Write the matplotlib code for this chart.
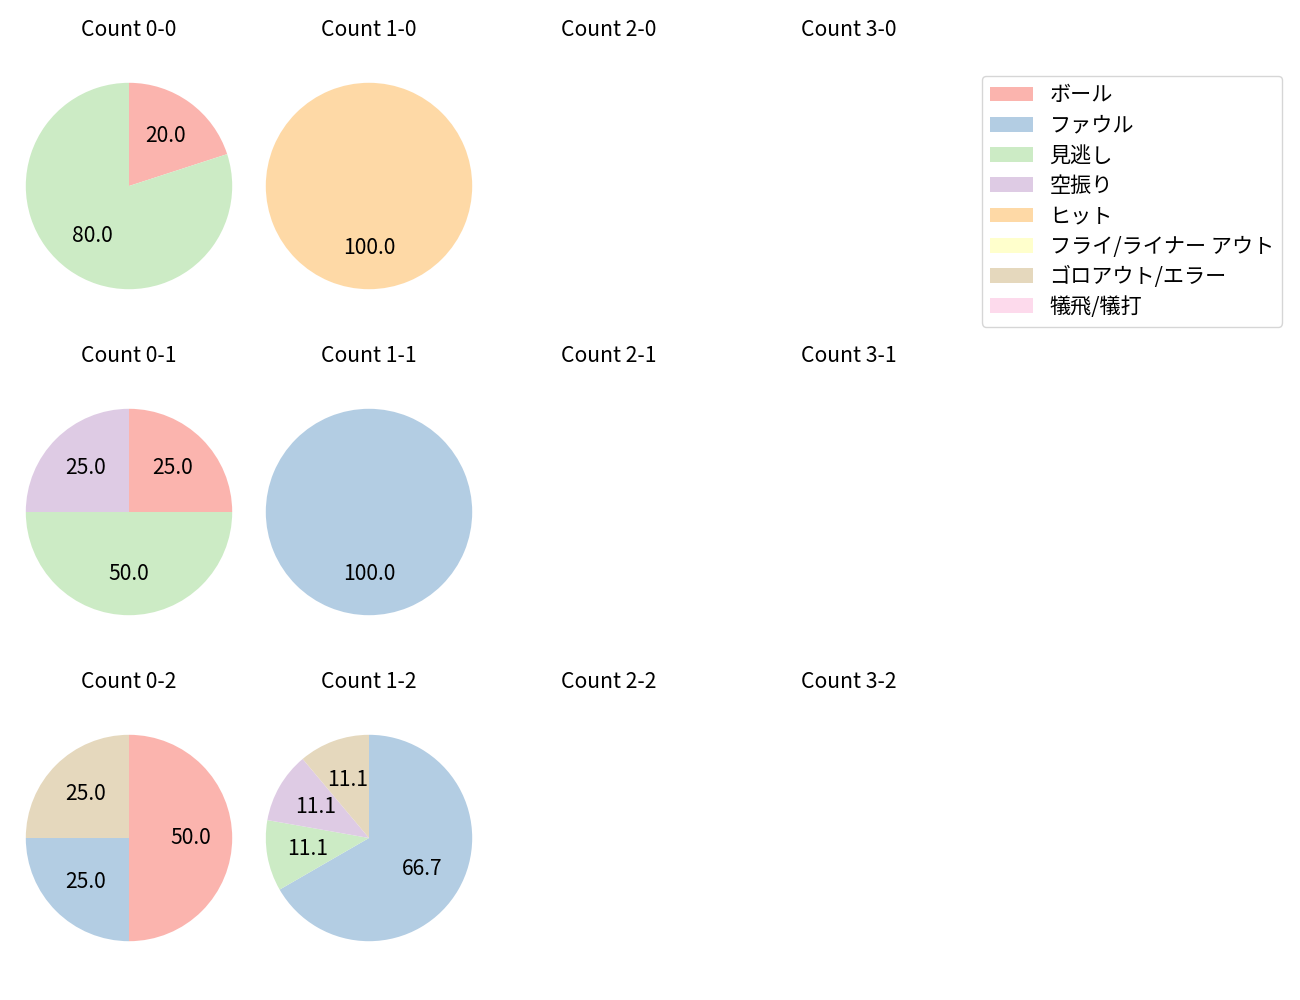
import matplotlib
matplotlib.use("Agg")
import matplotlib.pyplot as plt
from matplotlib.patches import Patch

plt.rcParams['font.family'] = ['Noto Sans CJK JP', 'DejaVu Sans']

categories = ['ボール', 'ファウル', '見逃し', '空振り', 'ヒット',
              'フライ/ライナー アウト', 'ゴロアウト/エラー', '犠飛/犠打']
colors = plt.get_cmap('Pastel1').colors[:len(categories)]

balls = [0, 1, 2, 3]
strikes = [0, 1, 2]

# pitch result counts per ball-strike count (same order as categories)
count_0_0 = [1, 0, 4, 0, 0, 0, 0, 0]
count_1_0 = [0, 0, 0, 0, 1, 0, 0, 0]
count_0_1 = [1, 0, 2, 1, 0, 0, 0, 0]
count_1_1 = [0, 1, 0, 0, 0, 0, 0, 0]
count_0_2 = [2, 1, 0, 0, 0, 0, 1, 0]
count_1_2 = [0, 6, 1, 1, 0, 0, 1, 0]

data = {
    (0, 0): count_0_0, (1, 0): count_1_0,
    (0, 1): count_0_1, (1, 1): count_1_1,
    (0, 2): count_0_2, (1, 2): count_1_2,
}

W, H = 1300, 1000
fig = plt.figure(figsize=(13, 10), dpi=100)
side = 258
fs = 15.2

for s in strikes:
    for b in balls:
        cx = 129 + 240 * b
        cy = 186 + 326 * s
        ax = fig.add_axes([(cx - side / 2) / W, 1 - (cy + side / 2) / H, side / W, side / H])
        ax.set_title('Count %d-%d' % (b, s), fontsize=fs, pad=15)
        vals = data.get((b, s))
        if vals is None:
            ax.axis('off')
            continue
        v = [x for x in vals if x > 0]
        c = [colors[i] for i, x in enumerate(vals) if x > 0]
        ax.pie(v, colors=c, startangle=90, counterclock=False,
               autopct='%.1f', textprops={'fontsize': fs})

handles = [Patch(facecolor=colors[i], label=categories[i]) for i in range(len(categories))]
fig.legend(handles=handles, loc='upper left', bbox_to_anchor=(982 / W, 1 - 76 / H),
           borderaxespad=0, fontsize=fs, labelspacing=0.39)

fig.savefig('out.png')
